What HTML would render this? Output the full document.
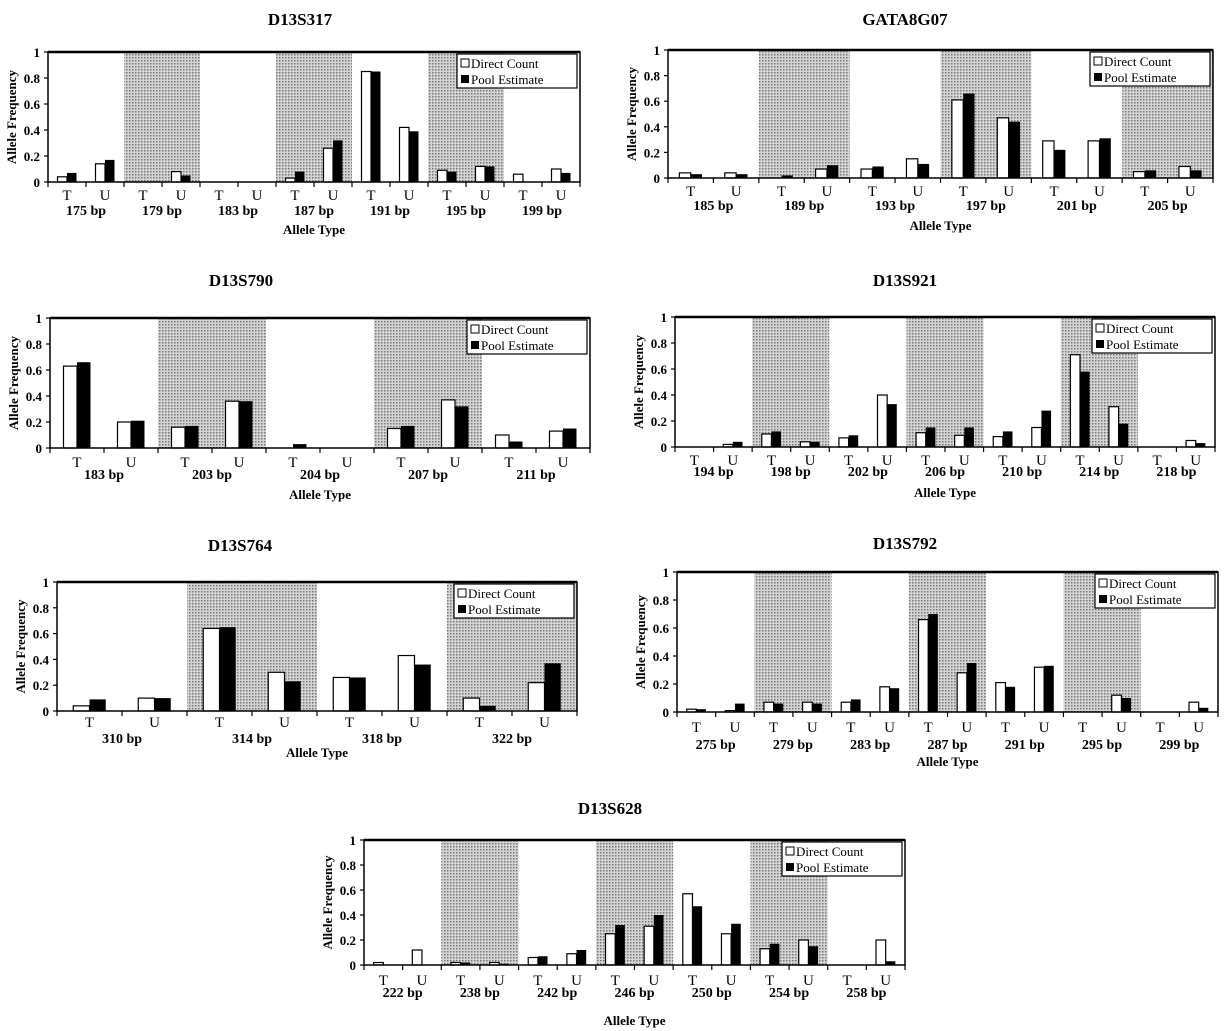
<!DOCTYPE html>
<html><head><meta charset="utf-8"><style>
body{margin:0;background:#fff;}
svg{display:block;font-family:"Liberation Serif",serif;}
</style></head><body>
<svg id="fig" width="1224" height="1031" viewBox="0 0 1224 1031" xmlns="http://www.w3.org/2000/svg">
<defs>
<pattern id="stip" width="3" height="3" patternUnits="userSpaceOnUse">
<rect width="3" height="3" fill="#d4d4d4"/><rect width="1.5" height="1.5" fill="#777"/>
</pattern>
</defs>
</svg>
<script>
// Panel data arrays (T and U values for each allele group)
const p1Groups = ["175 bp","179 bp","183 bp","187 bp","191 bp","195 bp","199 bp"];
const p1DirectT = [0.04,0,0,0.03,0.85,0.09,0.06];
const p1PoolT   = [0.07,0,0,0.08,0.85,0.08,0];
const p1DirectU = [0.14,0.08,0,0.26,0.42,0.12,0.10];
const p1PoolU   = [0.17,0.05,0,0.32,0.39,0.12,0.07];

const p2Groups = ["185 bp","189 bp","193 bp","197 bp","201 bp","205 bp"];
const p2DirectT = [0.04,0,0.07,0.61,0.29,0.05];
const p2PoolT   = [0.03,0.02,0.09,0.66,0.22,0.06];
const p2DirectU = [0.04,0.07,0.15,0.47,0.29,0.09];
const p2PoolU   = [0.03,0.10,0.11,0.44,0.31,0.06];

const p3Groups = ["183 bp","203 bp","204 bp","207 bp","211 bp"];
const p3DirectT = [0.63,0.16,0,0.15,0.10];
const p3PoolT   = [0.66,0.17,0.03,0.17,0.05];
const p3DirectU = [0.20,0.36,0,0.37,0.13];
const p3PoolU   = [0.21,0.36,0,0.32,0.15];

const p4Groups = ["194 bp","198 bp","202 bp","206 bp","210 bp","214 bp","218 bp"];
const p4DirectT = [0,0.10,0.07,0.11,0.08,0.71,0];
const p4PoolT   = [0,0.12,0.09,0.15,0.12,0.58,0];
const p4DirectU = [0.02,0.04,0.40,0.09,0.15,0.31,0.05];
const p4PoolU   = [0.04,0.04,0.33,0.15,0.28,0.18,0.03];

const p5Groups = ["310 bp","314 bp","318 bp","322 bp"];
const p5DirectT = [0.04,0.64,0.26,0.10];
const p5PoolT   = [0.09,0.65,0.26,0.04];
const p5DirectU = [0.10,0.30,0.43,0.22];
const p5PoolU   = [0.10,0.23,0.36,0.37];

const p6Groups = ["275 bp","279 bp","283 bp","287 bp","291 bp","295 bp","299 bp"];
const p6DirectT = [0.02,0.07,0.07,0.66,0.21,0,0];
const p6PoolT   = [0.02,0.06,0.09,0.70,0.18,0,0];
const p6DirectU = [0.01,0.07,0.18,0.28,0.32,0.12,0.07];
const p6PoolU   = [0.06,0.06,0.17,0.35,0.33,0.10,0.03];

const p7Groups = ["222 bp","238 bp","242 bp","246 bp","250 bp","254 bp","258 bp"];
const p7DirectT = [0.02,0.02,0.06,0.25,0.57,0.13,0];
const p7PoolT   = [0,0.02,0.07,0.32,0.47,0.17,0];
const p7DirectU = [0.12,0.02,0.09,0.31,0.25,0.20,0.20];
const p7PoolU   = [0,0.01,0.12,0.40,0.33,0.15,0.03];

const yTicks = [0,0.2,0.4,0.6,0.8,1];
const yTickLabels = ["0","0.2","0.4","0.6","0.8","1"];

const svg = document.getElementById('fig');
const NS = 'http://www.w3.org/2000/svg';
function mk(tag, attrs, parent){
  const e = document.createElementNS(NS, tag);
  for (const k in attrs) e.setAttribute(k, attrs[k]);
  (parent||svg).appendChild(e);
  return e;
}
function txt(s, attrs, parent){ const e = mk('text', attrs, parent); e.textContent = s; return e; }

function panel(cfg){
  const g = mk('g', {});
  
  
  const {L,R,T,B} = cfg;
  const n = cfg.groups.length;
  const gw = (R-L)/n;
  const y = v => B - v*(B-T);
  const xg = i => L + i*gw;
  const t = txt(cfg.title, {x:cfg.tx, y:cfg.ty, 'text-anchor':'middle', 'font-size':17, 'font-weight':'bold'}, g);
  
  
  for (let i=1;i<n;i+=2){
    const s = mk('rect', {x:xg(i), y:T, width:gw, height:B-T, fill:'url(#stip)'}, g);
    
    
  }
  const bw = gw*0.125;
  for (let i=0;i<n;i++){
    const pairs = [[cfg.dT[i],cfg.pT[i],0.25],[cfg.dU[i],cfg.pU[i],0.75]];
    pairs.forEach(([d,p,f],k)=>{
      const c = xg(i)+gw*f;
      if (d>0){
        const b = mk('rect',{x:c-bw,y:y(d),width:bw,height:B-y(d),fill:'#fff',stroke:'#000','stroke-width':1.2},g);
        
        
      }
      if (p>0){
        const b = mk('rect',{x:c,y:y(p),width:bw,height:B-y(p),fill:'#000'},g);
        
        
      }
      const lab = txt(k===0?'T':'U',{x:c,y:cfg.tuY,'text-anchor':'middle','font-size':15},g);
      
      
    });
    const gl = txt(cfg.groups[i],{x:xg(i)+gw/2,y:cfg.glY,'text-anchor':'middle','font-size':14,'font-weight':'bold'},g);
    
    
  }
  mk('rect',{x:L,y:T,width:R-L,height:B-T,fill:'none',stroke:'#000','stroke-width':1.5},g);
  mk('line',{x1:L,y1:T,x2:R,y2:T,stroke:'#000','stroke-width':2.5},g);
  for (let j=0;j<=2*n;j++){
    const x = L + j*gw/2;
    mk('line',{x1:x,y1:B,x2:x,y2:B+5,stroke:'#000','stroke-width':1.2},g);
  }
  yTicks.forEach((v,i)=>{
    mk('line',{x1:L-4,y1:y(v),x2:L,y2:y(v),stroke:'#000','stroke-width':1.2},g);
    const l = txt(yTickLabels[i],{x:L-8,y:y(v)+5,'text-anchor':'end','font-size':13,'font-weight':'bold'},g);
    
    
  });
  const yt = txt('Allele Frequency',{x:0,y:0,transform:`translate(${L-32},${(T+B)/2}) rotate(-90)`,'text-anchor':'middle','font-size':13,'font-weight':'bold'},g);
  
  
  const xt = txt('Allele Type',{x:(L+R)/2,y:cfg.atY,'text-anchor':'middle','font-size':13,'font-weight':'bold'},g);
  
  
  const lg = mk('g',{},g);
  
  
  const lx = R-123, ly = T+2;
  mk('rect',{x:lx,y:ly,width:120,height:34,fill:'#fff',stroke:'#000','stroke-width':1.2},lg);
  mk('rect',{x:lx+4,y:ly+5,width:8,height:8,fill:'#fff',stroke:'#000'},lg);
  mk('rect',{x:lx+4,y:ly+21,width:8,height:8,fill:'#000'},lg);
  const e1 = txt('Direct Count',{x:lx+14,y:ly+14,'font-size':13},lg);
  
  
  const e2 = txt('Pool Estimate',{x:lx+14,y:ly+30,'font-size':13},lg);
  
  
}

panel({name:'d13s317',title:'D13S317',tx:300,ty:25,L:48,R:580,T:52,B:182,groups:p1Groups,dT:p1DirectT,pT:p1PoolT,dU:p1DirectU,pU:p1PoolU,tuY:200,glY:215,atY:234});
panel({name:'gata8g07',title:'GATA8G07',tx:905,ty:25,L:668,R:1213,T:50,B:178,groups:p2Groups,dT:p2DirectT,pT:p2PoolT,dU:p2DirectU,pU:p2PoolU,tuY:196,glY:210,atY:230});
panel({name:'d13s790',title:'D13S790',tx:241,ty:286,L:50,R:590,T:318,B:448,groups:p3Groups,dT:p3DirectT,pT:p3PoolT,dU:p3DirectU,pU:p3PoolU,tuY:467,glY:479,atY:499});
panel({name:'d13s921',title:'D13S921',tx:905,ty:286,L:675,R:1215,T:317,B:447,groups:p4Groups,dT:p4DirectT,pT:p4PoolT,dU:p4DirectU,pU:p4PoolU,tuY:465,glY:476,atY:497});
panel({name:'d13s764',title:'D13S764',tx:240,ty:551,L:57,R:577,T:582,B:711,groups:p5Groups,dT:p5DirectT,pT:p5PoolT,dU:p5DirectU,pU:p5PoolU,tuY:727,glY:743,atY:757});
panel({name:'d13s792',title:'D13S792',tx:905,ty:549,L:677,R:1218,T:572,B:712,groups:p6Groups,dT:p6DirectT,pT:p6PoolT,dU:p6DirectU,pU:p6PoolU,tuY:732,glY:749,atY:766});
panel({name:'d13s628',title:'D13S628',tx:610,ty:814,L:364,R:905,T:840,B:965,groups:p7Groups,dT:p7DirectT,pT:p7PoolT,dU:p7DirectU,pU:p7PoolU,tuY:985,glY:997,atY:1025});
</script>
</body></html>
